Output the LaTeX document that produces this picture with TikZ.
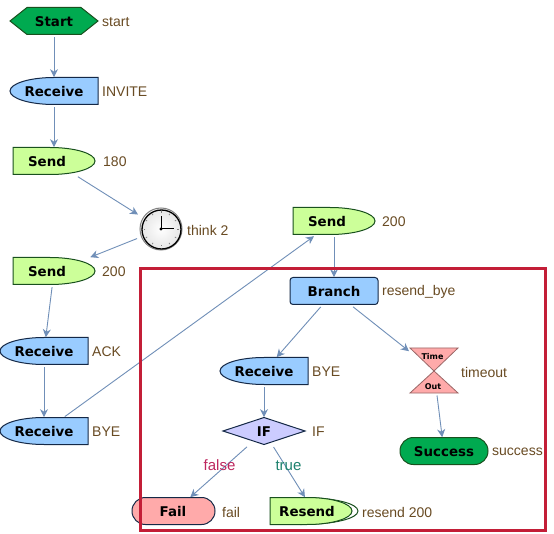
\documentclass[tikz,border=0pt]{standalone}
\usepackage{fontspec}
\setmainfont{Liberation Sans}
\newfontfamily\boldfam{DejaVu Sans}[BoldFont={DejaVu Sans Bold}]
\usetikzlibrary{arrows.meta}
\definecolor{edgeblue}{RGB}{112,143,184}
\definecolor{labelbrown}{RGB}{105,75,35}
\definecolor{navyline}{RGB}{20,40,70}
\definecolor{greenline}{RGB}{25,80,30}
\definecolor{recvfill}{RGB}{153,204,255}
\definecolor{sendfill}{RGB}{204,255,153}
\definecolor{okfill}{RGB}{0,170,80}
\definecolor{failfill}{RGB}{255,170,170}
\definecolor{iffill}{RGB}{204,204,255}
\definecolor{redframe}{RGB}{195,30,55}
\definecolor{falsecol}{RGB}{190,40,95}
\definecolor{truecol}{RGB}{30,130,110}
\tikzset{
  nbox/.style={rectangle,minimum width=88pt,minimum height=27pt,inner sep=0pt,outer sep=1pt,yshift=-.7pt,
    font=\boldfam\bfseries\fontsize{13.4}{14}\selectfont,text=black},
  lbl/.style={anchor=west,inner sep=0pt,yshift=-.6pt,font=\fontsize{14}{14}\selectfont,text=labelbrown},
  recvsty/.style={draw=navyline,fill=recvfill,line width=1pt},
  sendsty/.style={draw=greenline,fill=sendfill,line width=1pt},
  oksty/.style={draw=greenline,fill=okfill,line width=1pt},
  failsty/.style={draw=navyline,fill=failfill,line width=1pt},
  ifsty/.style={draw=navyline,fill=iffill,line width=1pt},
  edge/.style={draw=edgeblue,line width=.9pt,-{Stealth[length=8pt,width=8pt,inset=2.5pt]},shorten <=1pt},
}
\newcommand\recvnode[3]{%
  \begin{scope}[shift={(#2,#3)}]
    \draw[recvsty] (44,-13.5) -- (0,-13.5) .. controls (-24.3,-13.5) and (-44,-7.5) .. (-44,0)
      .. controls (-44,7.5) and (-24.3,13.5) .. (0,13.5) -- (44,13.5) -- cycle;
  \end{scope}
  \node[nbox] (#1) at (#2,#3) {Receive};}
\newcommand\sendshape[2]{%
  \begin{scope}[shift={(#1,#2)}]
    \draw[sendsty] (-41,-13.5) -- (-4,-13.5) .. controls (20.9,-13.5) and (41,-7.5) .. (41,0)
      .. controls (41,7.5) and (20.9,13.5) .. (-4,13.5) -- (-41,13.5) -- cycle;
  \end{scope}}
\newcommand\sendnode[3]{\sendshape{#2}{#3}\node[nbox] (#1) at (#2,#3) {\hspace{-14pt}Send};}
\begin{document}
\begin{tikzpicture}[x=1pt,y=-1pt]
\useasboundingbox (0,0) rectangle (554,534);
\fill[white] (0,0) rectangle (554,534);
% start
\draw[oksty] (10,21) -- (27,7.5) -- (81,7.5) -- (98,21) -- (81,34.5) -- (27,34.5) -- cycle;
\node[nbox] (start) at (54,21) {Start};
\recvnode{invite}{54}{91}
\sendnode{s180}{54}{161}
% clock
\shade[inner color=white,outer color=white!80!gray] (161,229) circle (20);
\draw[gray,line width=1pt] (161,229) circle (21);
\draw[black,line width=1.3pt] (161.5,229.5) circle (19.5);
\foreach \a in {0,30,...,330}
  \draw[gray,line width=.7pt] (161,229) ++(\a:16) -- ++(\a:1.5);
\draw[black,line width=1pt] (161,229) -- (161,216);
\draw[black,line width=1pt] (161,229) -- (174,229);
\fill[black] (161,229) circle (1.6);
\node[rectangle,minimum width=44pt,minimum height=44pt,inner sep=0pt,outer sep=1pt] (clock) at (161,229) {};
\sendnode{s200a}{54}{271}
\recvnode{ack}{44}{351}
\recvnode{bye}{44}{431}
\sendnode{s200b}{334}{221}
% branch
\draw[recvsty,rounded corners=3pt] (290,277.5) rectangle (378,304.5);
\node[nbox] (branch) at (334,291) {Branch};
\recvnode{bye2}{264}{371}
% IF
\draw[ifsty] (223,431) -- (264,417.5) -- (305,431) -- (264,444.5) -- cycle;
\node[nbox] (if) at (264,431) {IF};
% timeout
\draw[draw=gray!80!red,fill=failfill,line width=.8pt] (410,348) -- (458,348) -- (434,371) -- cycle;
\draw[draw=gray!80!red,fill=failfill,line width=.8pt] (410,393) -- (458,393) -- (434,371) -- cycle;
\node[rectangle,minimum width=48pt,minimum height=45pt,inner sep=0pt,outer sep=1pt] (timeout) at (434,371) {};
\node[inner sep=0pt,font=\boldfam\bfseries\fontsize{8}{8}\selectfont] (timetext) at (432.5,357) {Time};
\node[inner sep=0pt,font=\boldfam\bfseries\fontsize{8}{8}\selectfont] (outtext) at (433,386.5) {Out};
% success
\draw[oksty,rounded corners=13.4pt] (400,437.5) rectangle (488,464.5);
\node[nbox] (success) at (444,451) {Success};
% fail
\draw[failsty,rounded corners=13.4pt] (132,497.5) rectangle (215,524.5);
\node[nbox] (fail) at (174,511) {\hspace{-2pt}Fail};
% resend
\begin{scope}[shift={(314,511)}]
  \draw[sendsty,fill=white] (-13,-13.5) .. controls (20,-13.5) and (44,-7.5) .. (44,0)
      .. controls (44,7.5) and (20,13.5) .. (-13,13.5) -- cycle;
\end{scope}
\sendshape{311}{511}
\node[nbox] (resend) at (314,511) {\hspace{-14pt}Resend};
% labels
\node[lbl] (l1) at (102,21.5) {start};
\node[lbl] (l2) at (102,91.5) {INVITE};
\node[lbl] (l3) at (103,161.5) {180};
\node[lbl] (l4) at (187,229.5) {think 2};
\node[lbl] (l5) at (102,271.5) {200};
\node[lbl] (l6) at (92,351.5) {ACK};
\node[lbl] (l7) at (92,431.5) {BYE};
\node[lbl] (l8) at (382,221.5) {200};
\node[lbl] (l9) at (382,291.5) {resend\_bye};
\node[lbl] (l10) at (312,371.5) {BYE};
\node[lbl] (l11) at (312,431.5) {IF};
\node[lbl] (l12) at (461,371.5) {timeout};
\node[lbl] (l13) at (492,451.5) {success};
\node[lbl] (l14) at (222,511.5) {fail};
\node[lbl] (l15) at (362,511.5) {resend 200};
% connectors
\draw[edge] (start) -- (invite);
\draw[edge] (invite) -- (s180);
\draw[edge] (s180) -- (clock);
\draw[edge] (clock) -- (s200a);
\draw[edge] (s200a) -- (ack);
\draw[edge] (ack) -- (bye);
\draw[edge] (bye) -- (s200b);
\draw[edge] (s200b) -- (branch);
\draw[edge] (branch) -- (bye2);
\draw[edge] (branch) -- (timeout);
\draw[edge] (bye2) -- (if);
\draw[edge] (if) -- (fail);
\draw[edge] (if) -- (resend);
\draw[edge] (timeout) -- (success);
\node[inner sep=0pt,font=\fontsize{15}{15}\selectfont,text=falsecol] (falselbl) at (219.5,465.5) {false};
\node[inner sep=0pt,font=\fontsize{15}{15}\selectfont,text=truecol] (truelbl) at (288.5,465.5) {true};
% frame
\draw[redframe,line width=3pt] (140.5,268.5) rectangle (545.5,530);
\end{tikzpicture}
\end{document}
